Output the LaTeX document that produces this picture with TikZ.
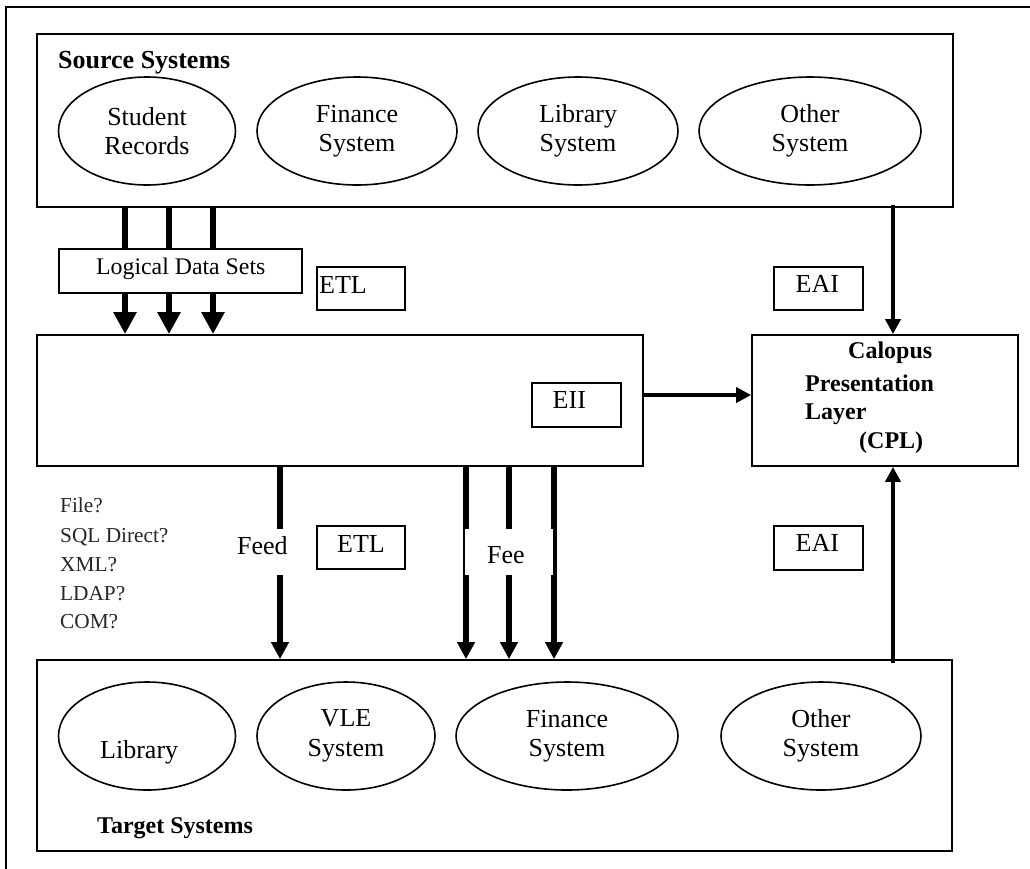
\documentclass[tikz,border=0pt]{standalone}
\usepackage{fontspec}
\setmainfont{Liberation Serif}
\usetikzlibrary{shapes.geometric,arrows.meta}
\newcommand\fsA{\fontsize{26}{29.5}\selectfont}
\newcommand\fsB{\fontsize{24}{29}\selectfont}
\newcommand\fsC{\fontsize{21.3}{29}\selectfont}
\tikzset{
  bigbox/.style={draw, line width=1.8pt, inner sep=0pt},
  smallbox/.style={draw, line width=1.6pt, fill=white, inner sep=0pt, minimum width=89pt, minimum height=43pt},
  sysell/.style={ellipse, draw, line width=1.6pt, inner sep=0pt, align=center, font=\fsA, minimum height=108pt},
  txt/.style={inner sep=0pt, anchor=base west, font=\fsA},
  heavyarrow/.style={line width=6pt, -{Triangle[width=22pt,length=22pt]}},
  medarrow/.style={line width=6pt, -{Triangle[width=17pt,length=17pt]}},
  lightarrow/.style={line width=4.3pt, -{Triangle[width=15pt,length=15pt]}},
  cover/.style={fill=white, inner sep=0pt}
}
\begin{document}
\begin{tikzpicture}[x=1pt,y=-1pt]
\useasboundingbox (0,0) rectangle (1030,868);
\clip (0,0) rectangle (1030,868);
\draw[line width=1.3pt] (6,880) -- (6,7) -- (1040,7);

% main boxes
\node[bigbox, minimum width=916pt, minimum height=173pt] (src) at (495,120.5) {};
\node[bigbox, minimum width=606pt, minimum height=131pt] (eii) at (340,400.5) {};
\node[bigbox, minimum width=266pt, minimum height=131pt] (cpl) at (885,400.5) {};
\node[bigbox, minimum width=915pt, minimum height=191pt] (tgt) at (494.5,755.5) {};

% source ellipses
\node[sysell, minimum width=177pt] (s1) at (147,131) {Student\\Records};
\node[sysell, minimum width=200pt] (s2) at (357,131) {Finance\\System};
\node[sysell, minimum width=200pt] (s3) at (578,131) {Library\\System};
\node[sysell, minimum width=222pt] (s4) at (810,131) {Other\\System};

% target ellipses
\node[sysell, minimum width=177pt] (t1) at (147,736) {};
\node[txt] (t1t) at (100,758) {Library};
\node[sysell, minimum width=178pt] (t2) at (346,736) {VLE\\System};
\node[sysell, minimum width=222pt] (t3) at (567,736) {Finance\\System};
\node[sysell, minimum width=200pt] (t4) at (821,736) {Other\\System};

% x positions
\coordinate (xa) at (125,0);
\coordinate (xb) at (169,0);
\coordinate (xc) at (213,0);
\coordinate (xd) at (893,0);
\coordinate (xe) at (280,0);
\coordinate (xf) at (466,0);
\coordinate (xg) at (509,0);
\coordinate (xh) at (554,0);
\coordinate (ya) at (0,395);

% connectors
\draw[heavyarrow] (src.south -| xa) -- (eii.north -| xa);
\draw[heavyarrow] (src.south -| xb) -- (eii.north -| xb);
\draw[heavyarrow] (src.south -| xc) -- (eii.north -| xc);
\draw[lightarrow] ([yshift=3pt]src.south -| xd) -- (cpl.north -| xd);
\draw[lightarrow] (eii.east |- ya) -- (cpl.west |- ya);
\draw[medarrow] (eii.south -| xe) -- (tgt.north -| xe);
\draw[medarrow] (eii.south -| xf) -- (tgt.north -| xf);
\draw[medarrow] (eii.south -| xg) -- (tgt.north -| xg);
\draw[medarrow] (eii.south -| xh) -- (tgt.north -| xh);
\draw[lightarrow] ([yshift=-4pt]tgt.north -| xd) -- (cpl.south -| xd);

% covers and small boxes
\node[smallbox, minimum width=243pt, minimum height=44pt] (lds) at (180.5,271) {};
\node[txt, font=\fontsize{23.8}{28}\selectfont] (ldst) at (96,274) {Logical Data Sets};
\node[smallbox, minimum width=88pt] (etl1) at (361,288.5) {};
\node[txt] (etl1t) at (319,293) {ETL};
\node[smallbox] (eai1) at (818.5,288.5) {};
\node[txt] (eai1t) at (795.5,292) {EAI};
\node[smallbox, minimum height=44pt] (eiib) at (576.5,405) {};
\node[txt] (eiit) at (552.5,408) {EII};
\node[smallbox, minimum width=88pt] (etl2) at (361,547.5) {};
\node[txt] (etl2t) at (337,552) {ETL};
\node[smallbox, minimum height=44pt] (eai2) at (818.5,548) {};
\node[txt] (eai2t) at (795.5,551) {EAI};

\node[cover, minimum width=52pt, minimum height=46pt] (feedgap) at (262,552) {};
\node[txt] (feedt) at (237,554) {Feed};
\node[cover, minimum width=88pt, minimum height=46pt] (feegap) at (509,552) {};
\node[txt] (feet) at (487,563) {Fee};

% headings
\node[txt, font=\fsA\bfseries] (srct) at (58,68) {Source Systems};
\node[txt, font=\fsB\bfseries] (tgtt) at (97,833) {Target Systems};
\node[txt, font=\fsB\bfseries] (c1) at (848,358) {Calopus};
\node[txt, font=\fsB\bfseries] (c2) at (805,391) {Presentation};
\node[txt, font=\fsB\bfseries] (c3) at (805,419) {Layer};
\node[txt, font=\fsB\bfseries] (c4) at (859,448) {(CPL)};

% protocol list
\node[txt, font=\fsC, text=black!85] (p1) at (60,512) {File?};
\node[txt, font=\fsC, text=black!85] (p2) at (60,542) {SQL Direct?};
\node[txt, font=\fsC, text=black!85] (p3) at (60,571) {XML?};
\node[txt, font=\fsC, text=black!85] (p4) at (60,600) {LDAP?};
\node[txt, font=\fsC, text=black!85] (p5) at (60,628) {COM?};
\end{tikzpicture}
\end{document}
